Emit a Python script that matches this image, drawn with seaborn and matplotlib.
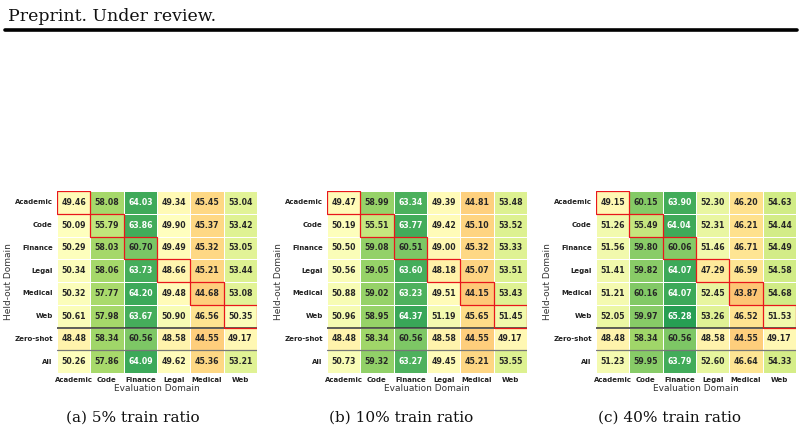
import numpy as np
import pandas as pd
import matplotlib
matplotlib.use('Agg')
import matplotlib.pyplot as plt
from matplotlib.patches import Rectangle
import seaborn as sns

sns.set_theme(style='white')

rows = ['Academic', 'Code', 'Finance', 'Legal', 'Medical', 'Web', 'Zero-shot', 'All']
cols = ['Academic', 'Code', 'Finance', 'Legal', 'Medical', 'Web']

ratio_5 = [
    [49.46, 58.08, 64.03, 49.34, 45.45, 53.04],
    [50.09, 55.79, 63.86, 49.90, 45.37, 53.42],
    [50.29, 58.03, 60.70, 49.49, 45.32, 53.05],
    [50.34, 58.06, 63.73, 48.66, 45.21, 53.44],
    [50.32, 57.77, 64.20, 49.48, 44.68, 53.08],
    [50.61, 57.98, 63.67, 50.90, 46.56, 50.35],
    [48.48, 58.34, 60.56, 48.58, 44.55, 49.17],
    [50.26, 57.86, 64.09, 49.62, 45.36, 53.21],
]
ratio_10 = [
    [49.47, 58.99, 63.34, 49.39, 44.81, 53.48],
    [50.19, 55.51, 63.77, 49.42, 45.10, 53.52],
    [50.50, 59.08, 60.51, 49.00, 45.32, 53.33],
    [50.56, 59.05, 63.60, 48.18, 45.07, 53.51],
    [50.88, 59.02, 63.23, 49.51, 44.15, 53.43],
    [50.96, 58.95, 64.37, 51.19, 45.65, 51.45],
    [48.48, 58.34, 60.56, 48.58, 44.55, 49.17],
    [50.73, 59.32, 63.27, 49.45, 45.21, 53.55],
]
ratio_40 = [
    [49.15, 60.15, 63.90, 52.30, 46.20, 54.63],
    [51.26, 55.49, 64.04, 52.31, 46.21, 54.44],
    [51.56, 59.80, 60.06, 51.46, 46.71, 54.49],
    [51.41, 59.82, 64.07, 47.29, 46.59, 54.58],
    [51.21, 60.16, 64.07, 52.45, 43.87, 54.68],
    [52.05, 59.97, 65.28, 53.26, 46.52, 51.53],
    [48.48, 58.34, 60.56, 48.58, 44.55, 49.17],
    [51.23, 59.95, 63.79, 52.60, 46.64, 54.33],
]
captions = ['(a) 5% train ratio', '(b) 10% train ratio', '(c) 40% train ratio']

W, H = 804, 433
fig = plt.figure(figsize=(W / 100, H / 100), dpi=100)

# header like the paper page
fig.text(8 / W, 1 - 21 / H, 'Preprint. Under review.', family='DejaVu Serif',
         fontsize=12.5, color='#111111')
fig.add_artist(plt.Line2D([5 / W, 797 / W], [1 - 30 / H, 1 - 30 / H],
                          color='black', lw=2.6, transform=fig.transFigure))

lefts = [57, 327, 596]
centers = [133, 401, 670]
for data, cap, left, cx in zip([ratio_5, ratio_10, ratio_40], captions, lefts, centers):
    df = pd.DataFrame(data, index=rows, columns=cols)
    ax = fig.add_axes([left / W, (H - 373) / H, 200 / W, 182 / H])
    sns.heatmap(df, ax=ax, cmap='RdYlGn', vmin=30, vmax=70, annot=True, fmt='.2f',
                cbar=False, linewidths=0.6, linecolor='white',
                annot_kws={'fontsize': 5.6, 'fontweight': 'bold'})
    for i in range(6):
        ax.add_patch(Rectangle((i, i), 1, 1, fill=False, edgecolor='#e8161b', lw=0.9, zorder=5))
    ax.axhline(6, color='#333333', lw=1.1)
    ax.axhline(7, color='#777777', lw=0.9)
    ax.set_xticklabels(cols, fontsize=5, fontweight='bold', rotation=0, color='#222222')
    ax.set_yticklabels(rows, fontsize=5, fontweight='bold', rotation=0, color='#222222')
    ax.tick_params(length=0, pad=3)
    ax.set_xlabel('Evaluation Domain', fontsize=6.5, color='#333333', labelpad=0.5)
    ax.set_ylabel('Held-out Domain', fontsize=6.5, color='#333333')
    ax.yaxis.set_label_coords(-0.22, 0.5)
    fig.text(cx / W, 1 - 418 / H, cap, family='DejaVu Serif', fontsize=11,
             ha='center', va='center', color='#111111')

fig.savefig('out.png', dpi=100)
